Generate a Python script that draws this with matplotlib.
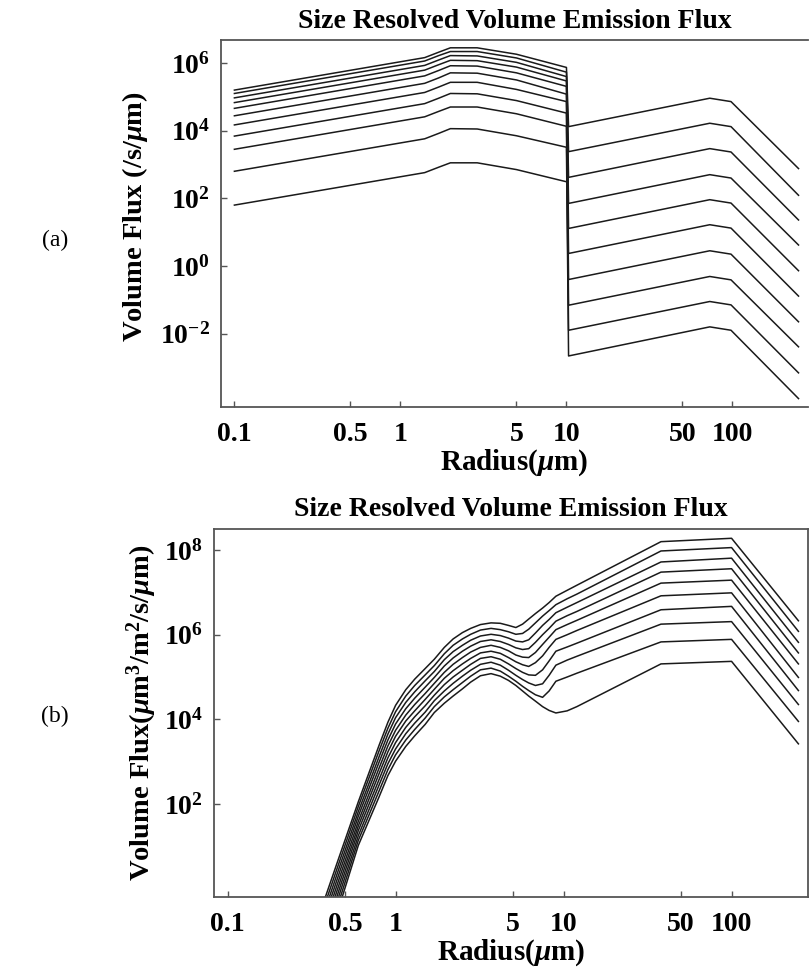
import numpy as np
import matplotlib.pyplot as plt
from matplotlib.ticker import NullLocator

plt.rcParams['font.family'] = ['Liberation Serif', 'DejaVu Serif']
plt.rcParams['mathtext.fontset'] = 'custom'
plt.rcParams['mathtext.rm'] = 'Liberation Serif:bold'
plt.rcParams['mathtext.it'] = 'Liberation Serif:bold:italic'
plt.rcParams['mathtext.bf'] = 'Liberation Serif:bold'

# ---- panel (a): values are log10 of the flux, one list per radius ----
a_x_left = [0.1, 1.4, 1.7, 2.0, 2.9, 5.0, 10.0]
a_left_01 = [5.20, 5.10, 4.97, 4.83, 4.66, 4.44, 4.17, 3.84, 3.45, 2.80, 1.80]
a_left_14 = [6.16, 6.06, 5.93, 5.79, 5.62, 5.40, 5.13, 4.80, 4.41, 3.76, 2.76]
a_left_17 = [6.32, 6.22, 6.09, 5.95, 5.78, 5.56, 5.29, 4.96, 4.57, 3.92, 2.92]
a_left_20 = [6.45, 6.34, 6.22, 6.08, 5.92, 5.71, 5.43, 5.10, 4.70, 4.06, 3.05]
a_left_29 = [6.45, 6.34, 6.21, 6.07, 5.91, 5.70, 5.43, 5.09, 4.70, 4.05, 3.05]
a_left_50 = [6.26, 6.15, 6.02, 5.88, 5.71, 5.50, 5.22, 4.89, 4.50, 3.85, 2.85]
a_left_10 = [5.87, 5.73, 5.60, 5.47, 5.31, 5.08, 4.86, 4.52, 4.13, 3.51, 2.49]

a_x_right = [10.3, 73.0, 98.0, 250.0]
a_right_start = [4.12, 3.38, 2.62, 1.85, 1.11, 0.37, -0.40, -1.16, -1.90, -2.66]
a_right_peak = [4.96, 4.22, 3.47, 2.70, 1.96, 1.22, 0.45, -0.31, -1.05, -1.80]
a_right_knee = [4.86, 4.12, 3.37, 2.60, 1.86, 1.12, 0.35, -0.41, -1.15, -1.90]
a_right_end = [2.88, 2.09, 1.36, 0.62, -0.14, -0.89, -1.65, -2.39, -3.16, -3.92]

# ---- panel (b): log10 of the flux at each radius, top curve first ----
b_x = [0.35, 0.45, 0.6, 0.8, 0.9, 1.0, 1.15, 1.3, 1.5, 1.7, 1.95, 2.2, 2.5,
       2.8, 3.2, 3.7, 4.2, 4.7, 5.2, 5.7, 6.2, 6.8, 7.5, 8.2, 9.0, 10.5, 12.0,
       38.0, 100.0, 250.0]
b_035 = [-0.64, -0.78, -0.93, -1.07, -1.22, -1.36, -1.51, -1.66, -1.80, -1.95]
b_045 = [0.62, 0.49, 0.36, 0.23, 0.10, -0.03, -0.16, -0.29, -0.43, -0.57]
b_06 = [2.05, 1.94, 1.82, 1.71, 1.59, 1.48, 1.37, 1.25, 1.14, 1.02]
b_08 = [3.40, 3.27, 3.13, 3.00, 2.86, 2.73, 2.59, 2.46, 2.32, 2.18]
b_09 = [3.93, 3.79, 3.65, 3.51, 3.37, 3.23, 3.09, 2.95, 2.81, 2.67]
b_10 = [4.33, 4.18, 4.04, 3.89, 3.74, 3.60, 3.45, 3.30, 3.16, 3.01]
b_115 = [4.70, 4.55, 4.40, 4.25, 4.10, 3.96, 3.81, 3.66, 3.51, 3.36]
b_13 = [4.95, 4.80, 4.65, 4.50, 4.35, 4.20, 4.06, 3.91, 3.76, 3.61]
b_15 = [5.20, 5.05, 4.91, 4.76, 4.61, 4.47, 4.32, 4.17, 4.03, 3.88]
b_17 = [5.42, 5.27, 5.13, 4.99, 4.85, 4.71, 4.57, 4.44, 4.30, 4.16]
b_195 = [5.70, 5.55, 5.41, 5.26, 5.11, 4.97, 4.82, 4.67, 4.53, 4.38]
b_22 = [5.90, 5.75, 5.60, 5.45, 5.30, 5.15, 5.00, 4.85, 4.70, 4.55]
b_25 = [6.05, 5.90, 5.75, 5.61, 5.46, 5.31, 5.16, 5.02, 4.87, 4.72]
b_28 = [6.15, 6.01, 5.87, 5.73, 5.59, 5.44, 5.30, 5.16, 5.02, 4.88]
b_32 = [6.24, 6.11, 5.97, 5.84, 5.70, 5.57, 5.44, 5.30, 5.17, 5.03]
b_37 = [6.28, 6.15, 6.01, 5.88, 5.75, 5.61, 5.48, 5.35, 5.21, 5.08]
b_42 = [6.27, 6.12, 5.98, 5.84, 5.70, 5.56, 5.42, 5.28, 5.14, 5.02]
b_47 = [6.22, 6.07, 5.92, 5.77, 5.62, 5.46, 5.31, 5.16, 5.02, 4.92]
b_52 = [6.17, 6.01, 5.85, 5.69, 5.52, 5.36, 5.20, 5.04, 4.90, 4.80]
b_57 = [6.25, 6.03, 5.83, 5.65, 5.47, 5.29, 5.11, 4.94, 4.78, 4.67]
b_62 = [6.37, 6.13, 5.88, 5.67, 5.46, 5.25, 5.05, 4.86, 4.68, 4.55]
b_68 = [6.50, 6.28, 6.04, 5.82, 5.58, 5.34, 5.04, 4.80, 4.58, 4.43]
b_75 = [6.63, 6.44, 6.22, 6.00, 5.77, 5.50, 5.17, 4.84, 4.52, 4.30]
b_82 = [6.76, 6.57, 6.36, 6.15, 5.94, 5.70, 5.38, 5.04, 4.67, 4.21]
b_90 = [6.91, 6.71, 6.52, 6.32, 6.12, 5.89, 5.61, 5.28, 4.90, 4.15]
b_105 = [7.05, 6.85, 6.65, 6.45, 6.24, 6.00, 5.71, 5.40, 5.00, 4.20]
b_120 = [7.17, 6.96, 6.76, 6.55, 6.34, 6.10, 5.80, 5.49, 5.09, 4.30]
b_380 = [8.20, 7.98, 7.72, 7.48, 7.22, 6.92, 6.59, 6.25, 5.83, 5.31]
b_1000 = [8.28, 8.06, 7.81, 7.56, 7.29, 6.99, 6.67, 6.31, 5.89, 5.37]
b_2500 = [6.33, 6.08, 5.82, 5.57, 5.31, 4.99, 4.68, 4.35, 3.95, 3.42]

x_ticks = [0.1, 0.5, 1, 5, 10, 50, 100]
x_tick_labels = ['0.1', '0.5', '1', '5', '10', '50', '100']
title = 'Size Resolved Volume Emission Flux'

fig = plt.figure(figsize=(8.1, 9.74), dpi=100)
ax1 = fig.add_axes([0.2728, 0.5821, 0.7247, 0.3768])
ax2 = fig.add_axes([0.2642, 0.0791, 0.7333, 0.3778])

line_kw = dict(color='#1a1a1a', lw=1.1)

# panel (a)
left_cols = [a_left_01, a_left_14, a_left_17, a_left_20, a_left_29, a_left_50, a_left_10]
right_cols = [a_right_start, a_right_peak, a_right_knee, a_right_end]
for i in range(len(a_left_01)):
    xs = list(a_x_left)
    ys = [c[i] for c in left_cols]
    if i < len(a_right_start):
        xs += a_x_right
        ys += [c[i] for c in right_cols]
    ax1.plot(xs, 10 ** np.array(ys), **line_kw)

# panel (b)
b_cols = [b_035, b_045, b_06, b_08, b_09, b_10, b_115, b_13, b_15, b_17, b_195,
          b_22, b_25, b_28, b_32, b_37, b_42, b_47, b_52, b_57, b_62, b_68,
          b_75, b_82, b_90, b_105, b_120, b_380, b_1000, b_2500]
for i in range(len(b_10)):
    ys = [c[i] for c in b_cols]
    ax2.plot(b_x, 10 ** np.array(ys), **line_kw)

for ax in (ax1, ax2):
    ax.set_xscale('log')
    ax.set_yscale('log')
    ax.set_xlim(0.083, 285)
    ax.set_xticks(x_ticks)
    ax.set_xticklabels(x_tick_labels, fontweight='bold')
    ax.xaxis.set_minor_locator(NullLocator())
    ax.yaxis.set_minor_locator(NullLocator())
    ax.tick_params(direction='in', length=4, width=1, labelsize=20, pad=8,
                   color='#555555')
    ax.tick_params(axis='x', pad=11)
    for s in ax.spines.values():
        s.set_color('#555555')
        s.set_linewidth(1.3)
    ax.set_title(title, fontsize=20, fontweight='bold', pad=9)
    ax.set_xlabel(r'Radius($\mathit{\mu}$m)', fontsize=21, fontweight='bold',
                  labelpad=0)

# the right edge of panel (a) is cut off in the original figure
ax1.spines['right'].set_visible(False)

ax1.set_ylim(10 ** -4.17, 10 ** 6.68)
ax1.set_yticks([1e-2, 1, 1e2, 1e4, 1e6])
ax1.set_yticklabels([r'$10^{-2}$', r'$10^{0}$', r'$10^{2}$', r'$10^{4}$', r'$10^{6}$'])
ax1.set_ylabel(r'Volume Flux (/s/$\mathit{\mu}$m)', fontsize=20.5, fontweight='bold')
ax1.yaxis.set_label_coords(-0.121, 0.52)

ax2.set_ylim(10 ** -0.2, 10 ** 8.5)
ax2.set_yticks([1e2, 1e4, 1e6, 1e8])
ax2.set_yticklabels([r'$10^{2}$', r'$10^{4}$', r'$10^{6}$', r'$10^{8}$'])
ax2.set_ylabel(r'Volume Flux($\mathit{\mu}$m$^3$/m$^2$/s/$\mathit{\mu}$m)',
               fontsize=20.5, fontweight='bold')
ax2.yaxis.set_label_coords(-0.093, 0.5)

fig.text(55 / 810, 1 - 240 / 974, '(a)', fontsize=17, ha='center', va='center')
fig.text(55 / 810, 1 - 716 / 974, '(b)', fontsize=17, ha='center', va='center')

fig.savefig('out.png', dpi=100)
